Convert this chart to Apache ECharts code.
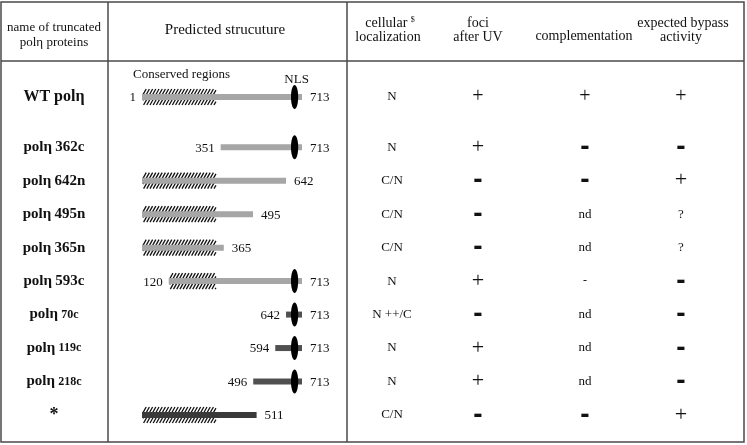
<!DOCTYPE html>
<html><head><meta charset="utf-8">
<script src="https://cdn.jsdelivr.net/npm/echarts@6/dist/echarts.min.js"></script>
<style>html,body{margin:0;padding:0;background:#fff}#c{width:747px;height:445px}</style>
</head><body><div id="c"></div>
<script>
// ---------- data ----------
const proteinBase   = ['WT polη','polη','polη','polη','polη','polη','polη','polη','polη','*'];
const proteinSuffix = ['','362c','642n','495n','365n','593c','70c','119c','218c','*'];
const startResidue  = [1,351,1,1,1,120,642,594,496,1];
const endResidue    = [713,713,642,495,365,713,713,713,713,511];
const startLabel    = ['1','351','','','','120','642','594','496',''];
const endLabel      = ['713','713','642','495','365','713','713','713','713','511'];
const hasNLS        = [1,1,0,0,0,1,1,1,1,0];
const hasConserved  = [1,0,1,1,1,1,0,0,0,1];
const conservedEndResidue = 330;
const nlsResidue = 680;
const localization    = ['N','N','C/N','C/N','C/N','N','N ++/C','N','N','C/N'];
const fociAfterUV     = ['+','+','-','-','-','+','-','+','+','-'];
const complementation = ['+','-','-','nd','nd','-','nd','nd','nd','-'];
const bypassActivity  = ['+','-','+','?','?','-','-','-','-','+'];
const headerLabels = {
  name: ['name of truncated','polη proteins'],
  structure: ['Predicted strucuture'],
  loc: ['cellular','localization'],
  foci: ['foci','after UV'],
  comp: ['complementation'],
  bypass: ['expected bypass','activity']
};

// ---------- styles / layout ----------
const SERIF = '"Liberation Serif", "Times New Roman", serif';
const SANS = '"Liberation Sans", Arial, sans-serif';
const barColor = i => (i === 9 ? '#3a3a3a' : (i >= 6 ? '#505050' : '#a6a6a6'));
const smallSuffixRows = {6:1,7:1,8:1};
const smallDash = {comp: {5:1}};
const slot = i => (i === 0 ? 0 : i + 0.5);
const ROW_TOP = 97, ROW_H = 318, SLOT_MAX = 9.5;

const chart = echarts.init(document.getElementById('c'), null, {renderer:'canvas'});

const columns = [
  {key:'name', center:54, values:proteinSuffix},
  {key:'loc', center:392, values:localization},
  {key:'foci', center:478, values:fociAfterUV},
  {key:'comp', center:585, values:complementation},
  {key:'bypass', center:681, values:bypassActivity}
];

const grids = [{left:142, width:160, top:ROW_TOP, height:ROW_H}];
const xAxes = [{type:'value', min:1, max:713, show:false, gridIndex:0}];
const yAxes = [{type:'value', min:0, max:SLOT_MAX, inverse:true, show:false, gridIndex:0}];
columns.forEach((c, k) => {
  grids.push({left:c.center - 30, width:60, top:ROW_TOP, height:ROW_H});
  xAxes.push({type:'category', data:['c'], show:false, gridIndex:k + 1});
  yAxes.push({type:'value', min:0, max:SLOT_MAX, inverse:true, show:false, gridIndex:k + 1});
});

function cellStyle(col, txt, i) {
  if (col.key === 'name') {
    if (i === 9) return {text:'*', fontFamily:SERIF, fontWeight:'bold', fontSize:18};
    if (i === 0) return {text:'WT polη', fontFamily:SERIF, fontWeight:'bold', fontSize:16};
    const small = smallSuffixRows[i];
    return {
      text:'{a|polη} {b|' + txt + '}',
      rich:{
        a:{fontFamily:SERIF, fontWeight:'bold', fontSize:15, fill:'#111'},
        b:{fontFamily:SERIF, fontWeight:'bold', fontSize: small ? 12 : 15, fill:'#111'}
      }
    };
  }
  if (txt === '+') return {text:'+', fontFamily:SERIF, fontSize: (i === 0 ? 20 : 22)};
  if (txt === '-') {
    if (smallDash[col.key] && smallDash[col.key][i]) return {text:'-', fontFamily:SERIF, fontSize:12};
    return {text:'-', fontFamily:SANS, fontWeight:'bold', fontSize:28};
  }
  return {text:txt, fontFamily:SERIF, fontSize:13};
}

const series = [];
// structure column
series.push({
  type:'custom', xAxisIndex:0, yAxisIndex:0, clip:false,
  data: startResidue.map((s, i) => [s, endResidue[i], slot(i), i]),
  renderItem(params, api) {
    const i = api.value(3);
    const sl = api.value(2);
    const s = api.coord([api.value(0), sl]);
    const e = api.coord([api.value(1), sl]);
    const y = s[1];
    const ch = [];
    if (hasConserved[i]) {
      const x0 = s[0] + 1;
      const x1 = api.coord([Math.min(endResidue[i], conservedEndResidue), sl])[0];
      const hh = 8, run = 9;
      for (let x = x0 - run; x < x1; x += 3.2) {
        // line from (x, y+hh) to (x+run, y-hh), clipped to [x0,x1]
        let ta = Math.max(0, (x0 - x) / run), tb = Math.min(1, (x1 - x) / run);
        if (tb <= ta) continue;
        ch.push({type:'line', shape:{x1:x + run*ta, y1:y + hh - 2*hh*ta, x2:x + run*tb, y2:y + hh - 2*hh*tb},
          style:{stroke:'#111', lineWidth:1.3}});
      }
    }
    ch.push({type:'rect', shape:{x:s[0], y:y - 3, width:e[0] - s[0], height:6}, style:{fill:barColor(i)}});
    if (hasNLS[i]) {
      const n = api.coord([nlsResidue, sl]);
      ch.push({type:'ellipse', shape:{cx:n[0], cy:y, rx:3.6, ry:12}, style:{fill:'#000'}});
    }
    if (startLabel[i]) ch.push({type:'text', x:s[0] - 6, y:y + 1, style:{text:startLabel[i], align:'right', verticalAlign:'middle', fontFamily:SERIF, fontSize:13, fill:'#111'}});
    ch.push({type:'text', x:e[0] + 8, y:y + 1, style:{text:endLabel[i], align:'left', verticalAlign:'middle', fontFamily:SERIF, fontSize:13, fill:'#111'}});
    if (i === 0) {
      const n = api.coord([nlsResidue, sl]);
      ch.push({type:'text', x:s[0] - 9, y:y - 22, style:{text:'Conserved regions', align:'left', verticalAlign:'middle', fontFamily:SERIF, fontSize:13, fill:'#111'}});
      ch.push({type:'text', x:n[0] + 2, y:y - 17, style:{text:'NLS', align:'center', verticalAlign:'middle', fontFamily:SERIF, fontSize:13, fill:'#111'}});
    }
    return {type:'group', children:ch};
  }
});
// text columns
columns.forEach((col, k) => {
  series.push({
    type:'custom', xAxisIndex:k + 1, yAxisIndex:k + 1, clip:false,
    data: col.values.map((v, i) => [0, slot(i), i]),
    renderItem(params, api) {
      const i = api.value(2);
      const p = api.coord([0, api.value(1)]);
      const st = Object.assign({align:'center', verticalAlign:'middle', fill:'#111'}, cellStyle(col, col.values[i], i));
      return {type:'text', x:p[0], y:p[1], style:st};
    }
  });
});

// table frame & header
const lineStyle = {stroke:'#4a4a4a', lineWidth:1.5};
const hdr = (text, x, y, size, extra) => Object.assign({type:'text', x, y, style:{text, align:'center', verticalAlign:'middle', fontFamily:SERIF, fontSize:size, fill:'#111'}}, extra || {});
const graphic = [
  {type:'rect', shape:{x:1, y:2, width:743, height:440}, style:{fill:'none', stroke:'#4a4a4a', lineWidth:1.5}},
  {type:'line', shape:{x1:108, y1:2, x2:108, y2:442}, style:lineStyle},
  {type:'line', shape:{x1:347, y1:2, x2:347, y2:442}, style:lineStyle},
  {type:'line', shape:{x1:1, y1:61, x2:744, y2:61}, style:lineStyle},
  hdr(headerLabels.name[0], 54, 28, 13),
  hdr(headerLabels.name[1], 54, 43, 13),
  hdr(headerLabels.structure[0], 225, 30, 15),
  {type:'text', x:390, y:23, style:{text:'{m|' + headerLabels.loc[0] + '} {s|$}', align:'center', verticalAlign:'middle',
    rich:{m:{fontFamily:SERIF, fontSize:14, fill:'#111'}, s:{fontFamily:SERIF, fontSize:8, fill:'#111', verticalAlign:'top', padding:[0,0,6,0]}}}},
  hdr(headerLabels.loc[1], 388, 37, 14),
  hdr(headerLabels.foci[0], 478, 23, 14),
  hdr(headerLabels.foci[1], 478, 37, 14),
  hdr(headerLabels.comp[0], 584, 36, 14),
  hdr(headerLabels.bypass[0], 683, 23, 14),
  hdr(headerLabels.bypass[1], 681, 37, 14)
];

chart.setOption({
  backgroundColor:'#fff',
  animation:false,
  grid:grids, xAxis:xAxes, yAxis:yAxes,
  series, graphic
});
</script></body></html>
